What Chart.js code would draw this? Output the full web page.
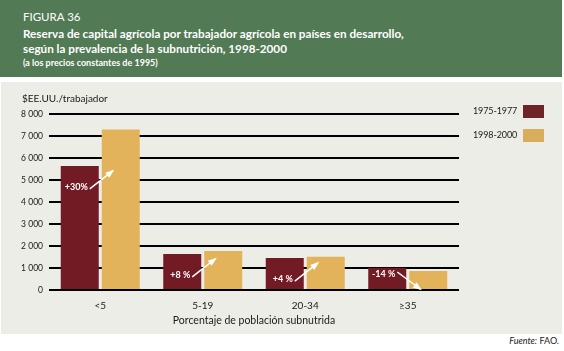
<!DOCTYPE html>
<html>
<head>
<meta charset="utf-8">
<script src="https://cdn.jsdelivr.net/npm/chart.js@4.4.1/dist/chart.umd.min.js"></script>
<style>
  html, body { margin: 0; padding: 0; background: #ffffff; }
  body { width: 564px; height: 351px; position: relative; overflow: hidden; font-family: Lato, "Noto Sans", sans-serif; }
  #header { position: absolute; left: 0; top: 0; width: 562px; height: 77px; background: #527a55; color: #ffffff; }
  #header div { position: absolute; left: 23px; white-space: nowrap; }
  #fig { top: 10px; font-size: 11.5px; }
  #t1 { top: 26px; font-size: 11.7px; font-weight: bold; }
  #t2 { top: 41px; font-size: 11.7px; font-weight: bold; }
  #t3 { top: 57px; font-size: 9px; font-weight: bold; }
  #panel { position: absolute; left: 1px; top: 82px; width: 561px; height: 252px; background: #ecede7; }
  #ytitle { position: absolute; left: 22px; top: 92px; font-size: 10px; color: #1a1a1a; }
  .leg { position: absolute; font-size: 9px; color: #1a1a1a; letter-spacing: -0.1px; }
  .sw { position: absolute; width: 21px; height: 13px; }
  #footer { position: absolute; right: 5px; top: 335px; font-size: 9px; color: #1a1a1a; }
  #wrap { position: absolute; left: 0; top: 82px; width: 564px; height: 252px; }
</style>
</head>
<body>
<div id="header">
  <div id="fig">FIGURA 36</div>
  <div id="t1">Reserva de capital agrícola por trabajador agrícola en países en desarrollo,</div>
  <div id="t2">según la prevalencia de la subnutrición, 1998-2000</div>
  <div id="t3">(a los precios constantes de 1995)</div>
</div>
<div id="panel"></div>
<div id="wrap"><canvas id="c" width="564" height="252"></canvas></div>
<div id="ytitle">$EE.UU./trabajador</div>
<div class="leg" style="left:473px; top:105px;">1975-1977</div>
<div class="sw" style="left:523px; top:105px; background:#6f2527;"></div>
<div class="leg" style="left:473px; top:129px;">1998-2000</div>
<div class="sw" style="left:523px; top:129px; background:#d8ad5d;"></div>
<div id="footer"><i>Fuente:</i> FAO.</div>
<script>
const categories = ['<5', '5-19', '20-34', '\u226535'];
const seriesNames = ['1975-1977', '1998-2000'];
const values1975 = [5640, 1640, 1450, 1000];
const values1998 = [7300, 1770, 1510, 860];
const changeLabels = ['+30%', '+8 %', '+4 %', '-14 %'];
const yMax = 8000;
const yStep = 1000;

const colorDark = '#731b25';
const colorGold = '#e3b35c';

function fmt(v) {
  return String(v).replace(/\B(?=(\d{3})+(?!\d))/g, ' ');
}

const arrowPlugin = {
  id: 'arrows',
  afterDatasetsDraw(chart) {
    const ctx = chart.ctx;
    const m0 = chart.getDatasetMeta(0).data;
    const m1 = chart.getDatasetMeta(1).data;
    ctx.save();
    ctx.font = 'bold 9px Lato, "Noto Sans", sans-serif';
    ctx.fillStyle = '#ffffff';
    ctx.strokeStyle = '#ffffff';
    ctx.lineWidth = 1.5;
    for (let i = 0; i < categories.length; i++) {
      const d = m0[i], g = m1[i];
      const up = values1998[i] >= values1975[i];
      const textRight = d.x + d.width / 2 - 11;
      const ty = up ? d.y + 21 : d.y + 6;
      ctx.textAlign = 'right';
      ctx.textBaseline = 'middle';
      ctx.fillText(changeLabels[i], textRight, ty);
      const sx = textRight + 2, sy = up ? ty + 2 : ty - 2;
      const ex = g.x - g.width / 2 + 11, ey = up ? ty - 16 : ty + 15;
      ctx.beginPath();
      ctx.moveTo(sx, sy);
      ctx.lineTo(ex, ey);
      ctx.stroke();
      const ang = Math.atan2(ey - sy, ex - sx);
      const L = 7, W = 3.2;
      ctx.beginPath();
      ctx.moveTo(ex + Math.cos(ang) * 2, ey + Math.sin(ang) * 2);
      ctx.lineTo(ex - Math.cos(ang) * L + Math.sin(ang) * W, ey - Math.sin(ang) * L - Math.cos(ang) * W);
      ctx.lineTo(ex - Math.cos(ang) * L - Math.sin(ang) * W, ey - Math.sin(ang) * L + Math.cos(ang) * W);
      ctx.closePath();
      ctx.fill();
    }
    ctx.restore();
  }
};

new Chart(document.getElementById('c'), {
  type: 'bar',
  data: {
    labels: categories,
    datasets: [
      { label: seriesNames[0], data: values1975, backgroundColor: colorDark, barPercentage: 0.927, categoryPercentage: 0.8 },
      { label: seriesNames[1], data: values1998, backgroundColor: colorGold, barPercentage: 0.927, categoryPercentage: 0.8 }
    ]
  },
  options: {
    responsive: false,
    animation: false,
    events: [],
    layout: { padding: { left: 0, right: 105, top: 32, bottom: 0 } },
    plugins: { legend: { display: false }, tooltip: { enabled: false } },
    scales: {
      x: {
        grid: { display: false },
        border: { display: false },
        ticks: { color: '#1a1a1a', font: { size: 10, family: 'Lato, "Noto Sans", sans-serif' }, padding: 2 },
        title: { display: true, text: 'Porcentaje de población subnutrida', color: '#1a1a1a', font: { size: 10.5, family: 'Lato, "Noto Sans", sans-serif' }, padding: { top: 0, bottom: 7 } },
        afterFit(s) { s.height = 44; }
      },
      y: {
        min: 0, max: yMax,
        ticks: { stepSize: yStep, color: '#1a1a1a', font: { size: 8.5, family: 'Lato, "Noto Sans", sans-serif' }, padding: 6, callback: v => fmt(v) },
        grid: { color: '#000000', lineWidth: 2, drawTicks: false },
        border: { display: false },
        afterFit(s) { s.width = 49; }
      }
    }
  },
  plugins: [arrowPlugin]
});
</script>
</body>
</html>
